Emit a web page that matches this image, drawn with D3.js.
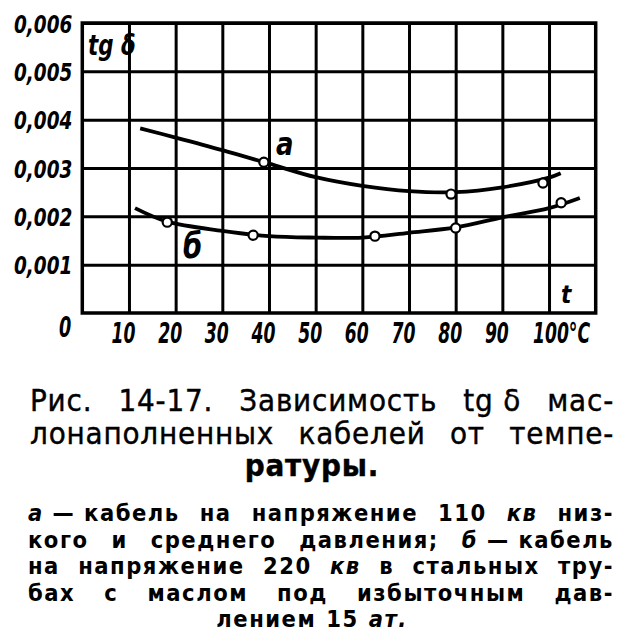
<!DOCTYPE html>
<html>
<head>
<meta charset="utf-8">
<script src="https://cdn.jsdelivr.net/npm/d3@7"></script>
<style>
  body { margin: 0; background: #fff; }
  svg { display: block; }
  .lbl { font-family: "DejaVu Sans Condensed", "DejaVu Sans", sans-serif; font-weight: bold; font-style: italic; fill: #000; }
  .cap { font-family: "DejaVu Sans Condensed", "DejaVu Sans", sans-serif; fill: #000; stroke: #000; stroke-width: 0.4px; letter-spacing: 0.8px; }
  .note { font-family: "DejaVu Sans Condensed", "DejaVu Sans", sans-serif; font-weight: bold; fill: #000; letter-spacing: 1.5px; }
</style>
</head>
<body>
<div id="chart"></div>
<script>
// data
var tempTicks = [10, 20, 30, 40, 50, 60, 70, 80, 90, 100];
var tgTicks = [0.001, 0.002, 0.003, 0.004, 0.005, 0.006];

// curve a (110 kV cable)
var curveA_t  = [12.4, 20, 30, 40, 50, 60, 70, 80, 90, 100, 102.5];
var curveA_tg = [0.00382, 0.00363, 0.00337, 0.00309, 0.00281, 0.00263, 0.00252, 0.0025, 0.0026, 0.0028, 0.00289];
var pointsA_t  = [38.9, 79, 98.7];
var pointsA_tg = [0.00312, 0.00246, 0.00269];

// curve б (220 kV cable in steel pipe)
var curveB_t  = [11.3, 18.2, 30, 40, 50, 60, 70, 80, 90, 100, 106.6];
var curveB_tg = [0.00217, 0.00189, 0.0017, 0.00159, 0.00156, 0.00156, 0.00166, 0.00177, 0.00198, 0.00217, 0.00238];
var pointsB_t  = [18.2, 36.6, 62.7, 80, 102.6];
var pointsB_tg = [0.00188, 0.00161, 0.00159, 0.00176, 0.00228];

// caption lines, *...* = italic, ~ = fixed space, last line centred
var captionLines = [
  "Рис. 14-17. Зависимость tg~δ мас-",
  "лонаполненных кабелей от темпе-"
];
var captionLast = "ратуры.";
var noteLines = [
  "*а*~—~кабель на напряжение 110 *кв* низ-",
  "кого и среднего давления; *б*~—~кабель",
  "на напряжение 220 *кв* в стальных тру-",
  "бах с маслом под избыточным дав-"
];
var noteLast = "лением 15 *ат.*";

var W = 623, H = 644;
var plotLeft = 82.3, plotRight = 595.7, plotTop = 23, plotBottom = 313;

var svg = d3.select("#chart").append("svg").attr("width", W).attr("height", H);

var x = d3.scaleLinear().domain([0, 110]).range([plotLeft, plotRight]);
var y = d3.scaleLinear().domain([0, 0.006]).range([plotBottom, plotTop]);

// vertical grid + temperature labels
var xAxis = svg.append("g").attr("transform", "translate(0," + plotBottom + ")")
  .call(d3.axisBottom(x).tickValues(tempTicks).tickSize(-(plotBottom - plotTop))
    .tickFormat(function(d) { return d === 100 ? "100°C" : d; }));
xAxis.select(".domain").remove();
xAxis.selectAll(".tick line").attr("stroke", "#000").attr("stroke-width", 3);
xAxis.selectAll(".tick text").attr("class", "lbl").attr("font-size", 29)
  .attr("dy", null).attr("x", 0).attr("y", 0)
  .attr("transform", function(d) { return "translate(" + (d === 100 ? 12 : -6) + ",30) scale(0.66,1)"; });

// horizontal grid + tg labels
var yAxis = svg.append("g").attr("transform", "translate(" + plotLeft + ",0)")
  .call(d3.axisLeft(y).tickValues(tgTicks).tickSize(-(plotRight - plotLeft))
    .tickFormat(function(d) { return d3.format(".3f")(d).replace(".", ","); }));
yAxis.select(".domain").remove();
yAxis.selectAll(".tick line").attr("stroke", "#000").attr("stroke-width", 3);
yAxis.selectAll(".tick text").attr("class", "lbl").attr("font-size", 25)
  .attr("x", 0).attr("dy", null).attr("y", 0)
  .attr("transform", "translate(-10,9) scale(0.82,1)");

svg.append("text").attr("class", "lbl").attr("font-size", 28)
  .attr("text-anchor", "end")
  .attr("transform", "translate(" + (x(0) - 11) + ",337) scale(0.7,1)").text("0");

// frame
svg.append("rect").attr("x", x(0)).attr("y", y(0.006))
  .attr("width", x(110) - x(0)).attr("height", y(0) - y(0.006))
  .attr("fill", "none").attr("stroke", "#000").attr("stroke-width", 3.5);

// curves
var line = d3.line().curve(d3.curveCatmullRom)
  .x(function(d) { return x(d[0]); }).y(function(d) { return y(d[1]); });

var curveA = d3.zip(curveA_t, curveA_tg);
var curveB = d3.zip(curveB_t, curveB_tg);
[curveA, curveB].forEach(function(c) {
  svg.append("path").attr("d", line(c)).attr("fill", "none")
    .attr("stroke", "#000").attr("stroke-width", 3.8);
});

var pts = d3.zip(pointsA_t, pointsA_tg).concat(d3.zip(pointsB_t, pointsB_tg));
svg.selectAll(".pt").data(pts).enter().append("circle").attr("class", "pt")
  .attr("cx", function(d) { return x(d[0]); }).attr("cy", function(d) { return y(d[1]); })
  .attr("r", 4.6).attr("fill", "#fff").attr("stroke", "#000").attr("stroke-width", 2.2);

// labels inside the plot
svg.append("text").attr("class", "lbl").attr("font-size", 28)
  .attr("transform", "translate(88,55) scale(0.85,1)").text("tg δ");
svg.append("text").attr("class", "lbl").attr("font-size", 32)
  .attr("transform", "translate(276,155) scale(0.9,1)").text("а");
svg.append("text").attr("class", "lbl").attr("font-size", 36)
  .attr("transform", "translate(183,258) scale(0.85,1)").text("б");
svg.append("text").attr("class", "lbl").attr("font-size", 24)
  .attr("x", 561).attr("y", 303).text("t");

// justified text
function makeWord(g, word, cls, size, bold) {
  var t = g.append("text").attr("class", cls).attr("font-size", size);
  if (bold !== undefined) t.attr("font-weight", bold);
  word.replace(/~/g, "\u00a0").split("*").forEach(function(s, i) {
    if (s === "") return;
    var sp = t.append("tspan").text(s);
    if (i % 2 === 1) sp.attr("font-style", "italic");
  });
  return t;
}

function justify(str, cls, size, x0, x1, yb, bold) {
  var g = svg.append("g");
  var words = str.split(" ").map(function(w) { return makeWord(g, w, cls, size, bold); });
  var widths = words.map(function(t) { return t.node().getComputedTextLength(); });
  var gap = (x1 - x0 - d3.sum(widths)) / (words.length - 1);
  var pos = x0;
  words.forEach(function(t, i) { t.attr("x", pos).attr("y", yb); pos += widths[i] + gap; });
}

function centred(str, cls, size, cx, yb, gap, bold) {
  var g = svg.append("g");
  var words = str.split(" ").map(function(w) { return makeWord(g, w, cls, size, bold); });
  var widths = words.map(function(t) { return t.node().getComputedTextLength(); });
  var total = d3.sum(widths) + gap * (words.length - 1);
  var pos = cx - total / 2;
  words.forEach(function(t, i) { t.attr("x", pos).attr("y", yb); pos += widths[i] + gap; });
}

captionLines.forEach(function(s, i) { justify(s, "cap", 31, 30, 614, 411 + i * 33); });
centred(captionLast, "cap", 31, 312, 476, 8, "bold");

noteLines.forEach(function(s, i) { justify(s, "note", 23.5, 28, 614, 521 + i * 26.5); });
centred(noteLast, "note", 23.5, 312, 627, 10);
</script>
</body>
</html>
